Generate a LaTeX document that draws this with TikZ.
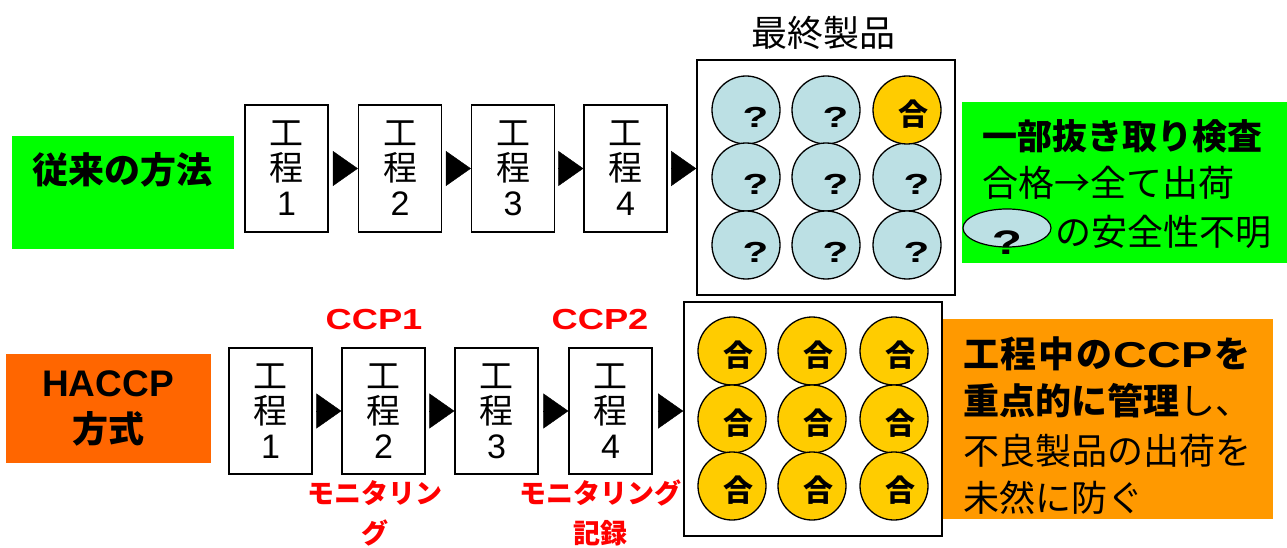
\documentclass[tikz,border=0pt]{standalone}
\usepackage{fontspec}
\usepackage{graphicx}
\setmainfont{Liberation Sans}
\newfontfamily\jp{Noto Sans CJK JP}
\usetikzlibrary{arrows.meta,shapes.geometric,calc}
\definecolor{grn}{HTML}{00FF00}
\definecolor{org}{HTML}{FF6600}
\definecolor{orgb}{HTML}{FF9900}
\definecolor{gold}{HTML}{FFCC00}
\definecolor{lblue}{HTML}{BCE0E4}
\definecolor{redt}{HTML}{FF0000}
\newcommand{\qmark}{\scalebox{1.45}[1]{?}}
\begin{document}
\begin{tikzpicture}[x=1pt,y=-1pt,
  proc/.style={draw,line width=1.3pt,fill=white,minimum width=83pt,inner sep=0pt,align=center,font=\fontsize{34}{35}\selectfont},
  flow/.style={-{Triangle[length=25pt,width=35pt]},line width=0.4pt,shorten <=5pt},
  panel/.style={draw,line width=1.6pt,fill=white,minimum width=258pt,inner sep=0pt},
  ball/.style={circle,draw,line width=1.3pt,minimum size=68pt,inner sep=0pt},
  qball/.style={ball,fill=lblue,label={[qm]center:\qmark}},
  gball/.style={ball,fill=gold,label={[gou]center:{\jp 合}}},
  qm/.style={xshift=9.5pt,yshift=-7pt,font=\bfseries\fontsize{29}{29}\selectfont},
  gou/.style={xshift=6pt,yshift=-4pt,font=\jp\bfseries\fontsize{30}{30}\selectfont},
  jpb/.style={inner sep=0pt,font=\jp\bfseries\fontsize{36}{36}\selectfont},
  jpr/.style={inner sep=0pt,font=\jp\fontsize{36}{36}\selectfont},
  redlab/.style={inner sep=0pt,text=redt,align=center,font=\jp\bfseries\fontsize{27}{40}\selectfont},
  ccp/.style={inner sep=0pt,text=redt,font=\bfseries\fontsize{29}{29}\selectfont}
]
\useasboundingbox (0,0) rectangle (1287,548);

% ---------- top row: conventional method ----------
\node[fill=grn,minimum width=222pt,minimum height=113pt,inner sep=0pt] (conv) at (123,192.5) {};
\node[jpb] (convt) at (122,170) {従来の方法};

\foreach \i/\x in {1/286.5,2/400,3/513,4/625.5}{
  \node[proc,minimum height=127pt] (a\i) at (\x,168.5) {{\jp 工}\\{\jp 程}\\\i};
}
\node[panel,minimum height=235pt] (fin) at (826,177.5) {};
\node[jpr] (fint) at (823,33) {最終製品};
\draw[flow] (a1.east) -- (a2.west);
\draw[flow] (a2.east) -- (a3.west);
\draw[flow] (a3.east) -- (a4.west);
\draw[flow] (a4.east) -- (a4.east -| fin.west);

\foreach \n/\x/\y in {11/746/110,12/826/110,21/746/177,22/826/177,23/907/177,31/746/245,32/826/245,33/907/245}{
  \node[qball] (t\n) at (\x,\y) {};
}
\node[gball] (t13) at (907,110) {};

\node[fill=grn,minimum width=325pt,minimum height=161pt,inner sep=0pt] (sample) at (1124.5,182.5) {};
\node[jpb,anchor=west,font=\jp\bfseries\fontsize{35}{35}\selectfont] (s1) at (982,136) {一部抜き取り検査};
\node[jpr,anchor=west] (s2) at (982,183) {合格→全て出荷};
\node[ellipse,draw,line width=1.2pt,fill=lblue,minimum width=88pt,minimum height=38pt,inner sep=0pt,
      label={[yshift=-15pt,font=\bfseries\fontsize{34}{34}\selectfont]center:\qmark}] (leg) at (1007,228) {};
\node[jpr,anchor=west] (s3) at (1055,232) {の安全性不明};

% ---------- bottom row: HACCP ----------
\node[fill=org,minimum width=205pt,minimum height=109pt,inner sep=0pt] (hac) at (108.5,408.5) {};
\node[inner sep=0pt,font=\bfseries\fontsize{37}{37}\selectfont] (hact) at (108,384) {HACCP};
\node[jpb] (hacs) at (108,429) {方式};

\foreach \i/\x in {1/270.5,2/383.5,3/496.5,4/610.5}{
  \node[proc,minimum height=126pt] (b\i) at (\x,411) {{\jp 工}\\{\jp 程}\\\i};
}
\node[panel,minimum height=234pt] (fin2) at (813,419) {};
\draw[flow] (b1.east) -- (b2.west);
\draw[flow] (b2.east) -- (b3.west);
\draw[flow] (b3.east) -- (b4.west);
\draw[flow] (b4.east) -- (b4.east -| fin2.west);

\node[ccp] (ccp1) at (374,320) {\scalebox{1.25}[1]{CCP1}};
\node[ccp] (ccp2) at (600,320) {\scalebox{1.25}[1]{CCP2}};
\node[redlab] (mon1) at (375,513) {モニタリン\\グ};
\node[redlab] (mon2) at (600,513) {モニタリング\\記録};

\foreach \n/\x/\y in {11/732/351,12/812/351,13/894/351,21/732/419,22/812/419,23/894/419,31/732/486,32/812/486,33/894/486}{
  \node[gball] (g\n) at (\x,\y) {};
}

\node[fill=orgb,minimum width=330pt,minimum height=200pt,inner sep=0pt] (haccpnote) at (1108,419) {};
\node[jpb,anchor=west] (h1) at (963,354) {\makebox[287pt][s]{工\hfill 程\hfill 中\hfill の\hfill\fontspec{Liberation Sans}\scalebox{1.3}[1]{CCP}\hfill\jp を}};
\node[jpr,anchor=west] (h2) at (963,401) {{\bfseries 重点的に管理}し、};
\node[jpr,anchor=west] (h3) at (963,451) {不良製品の出荷を};
\node[jpr,anchor=west] (h4) at (963,498) {未然に防ぐ};
\end{tikzpicture}
\end{document}
